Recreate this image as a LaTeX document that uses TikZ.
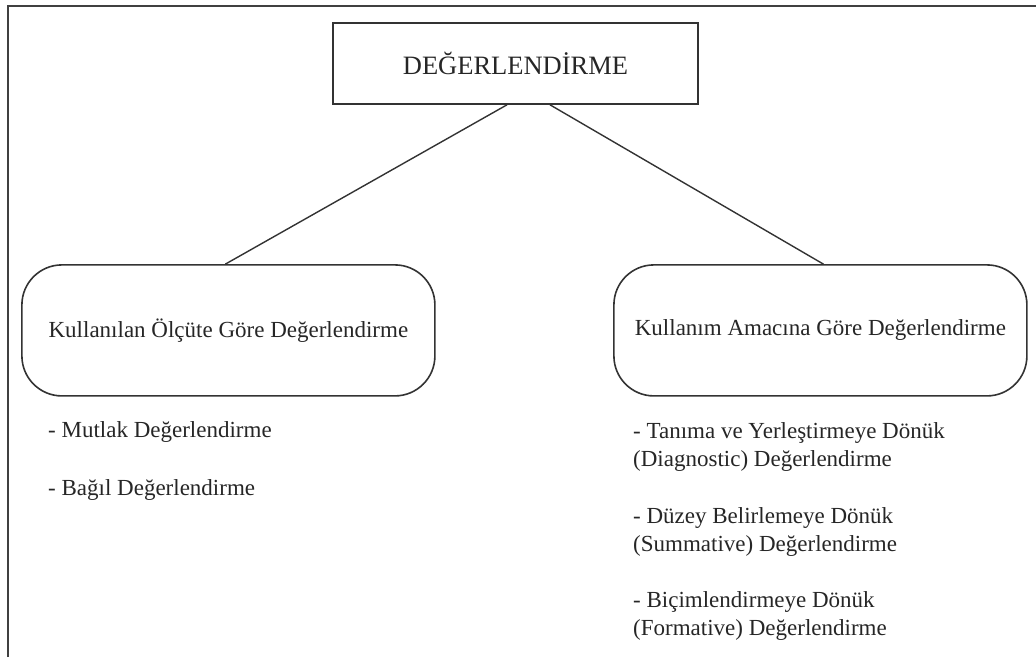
\documentclass[tikz,border=0pt]{standalone}
\usepackage{fontspec}
\setmainfont{Liberation Serif}
\begin{document}
\begin{tikzpicture}[x=1pt,y=-1pt,
  ink/.style={draw=black!80, line width=1.6pt},
  headbox/.style={ink, rectangle, minimum width=365pt, minimum height=81pt,
    inner sep=0pt, font=\fontsize{26.5}{30}\selectfont, text=black!85},
  catbox/.style={ink, rectangle, rounded corners=40pt, minimum width=413pt,
    minimum height=131pt, inner sep=0pt, font=\fontsize{23}{28}\selectfont, text=black!85},
  link/.style={draw=black!80, line width=1.4pt},
  item/.style={anchor=base west, inner sep=0pt, font=\fontsize{23}{28}\selectfont, text=black!85}]
  \useasboundingbox (0,0) rectangle (1036,657);

  % outer frame (top and left edges)
  \draw[draw=black!75, line width=2pt] (8,657) -- (8,5.5) -- (1036,5.5);

  % boxes
  \node[headbox] (top) at (515.5,63.5) {DEĞERLENDİRME};
  \node[catbox] (left) at (228.4,330.4) {Kullanılan Ölçüte Göre Değerlendirme};
  \node[catbox] (right) at (820.4,330.4) {Kullanım Amacına Göre Değerlendirme};

  % connectors
  \draw[link] ([xshift=-8.5pt]top.south) -- ([xshift=-3pt]left.north);
  \draw[link] ([xshift=34.5pt]top.south) -- ([xshift=3pt]right.north);

  % left list
  \node[item] (l1) at (48,437) {- Mutlak Değerlendirme};
  \node[item] (l2) at (48,495) {- Bağıl Değerlendirme};

  % right list
  \node[item] (r1a) at (633,438) {- Tanıma ve Yerleştirmeye Dönük};
  \node[item] (r1b) at (633,466) {(Diagnostic) Değerlendirme};
  \node[item] (r2a) at (633,523) {- Düzey Belirlemeye Dönük};
  \node[item] (r2b) at (633,551) {(Summative) Değerlendirme};
  \node[item] (r3a) at (633,607) {- Biçimlendirmeye Dönük};
  \node[item] (r3b) at (633,635) {(Formative) Değerlendirme};
\end{tikzpicture}
\end{document}
